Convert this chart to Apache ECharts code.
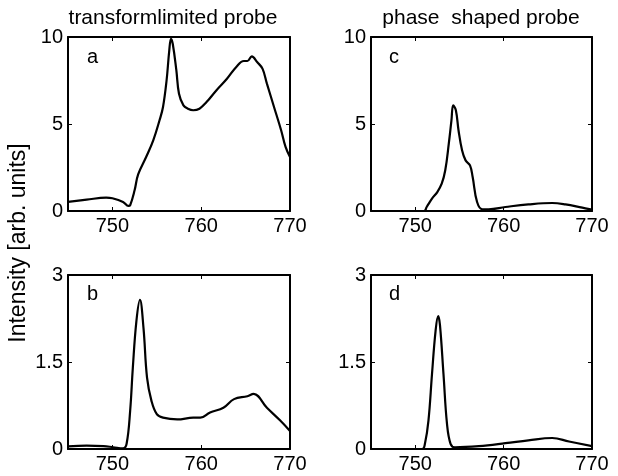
<!DOCTYPE html>
<html><head><meta charset="utf-8">
<script src="https://cdn.jsdelivr.net/npm/echarts@6/dist/echarts.min.js"></script>
<style>html,body{margin:0;padding:0;background:#fff}#c{width:618px;height:476px}</style>
</head><body><div id="c"></div>
<script>
// Panel titles / labels
const colTitles = ["transformlimited probe", "phase  shaped probe"];
const panelLetters = ["a", "c", "b", "d"];
const yAxisLabel = "Intensity [arb. units]";
const xTicks = [750, 760, 770];

// Panel a (transform limited, top)
const aX = [745, 747.1, 749.3, 750, 751.2, 751.8, 752.0, 752.5, 752.9, 753.8, 754.6, 755.3, 755.7, 756.1, 756.4, 756.6, 756.8, 757.2, 757.5, 758.0, 758.5, 759.1, 759.8, 760.6, 761.7, 762.9, 764.0, 764.8, 765.2, 765.7, 766.3, 766.9, 767.4, 768.2, 769.0, 769.5, 770];
const aY = [0.52, 0.65, 0.77, 0.73, 0.52, 0.29, 0.33, 1.19, 2.1, 3.1, 4.06, 5.2, 5.98, 7.5, 9.2, 9.9, 9.6, 8.1, 6.74, 6.07, 5.88, 5.79, 5.88, 6.26, 6.93, 7.6, 8.31, 8.62, 8.62, 8.89, 8.56, 8.18, 7.32, 5.98, 4.64, 3.68, 3.1];

// Panel c (phase shaped, top)
const cX = [745, 751.0, 751.3, 751.9, 752.5, 753.0, 753.4, 753.8, 754.1, 754.3, 754.6, 754.9, 755.3, 755.7, 756.2, 756.5, 757.0, 757.6, 758.3, 760.2, 762.8, 765.5, 767.0, 768.9, 770];
const cY = [0, 0, 0.23, 0.71, 1.09, 1.57, 2.34, 3.87, 5.21, 6.07, 5.79, 4.64, 3.49, 2.91, 2.62, 1.95, 0.52, 0.1, 0.1, 0.23, 0.38, 0.46, 0.38, 0.19, 0.08];

// Panel b (transform limited, bottom)
const bX = [745, 747.1, 749, 750.1, 751.2, 751.6, 752.0, 752.3, 752.7, 753.1, 753.5, 753.9, 754.4, 755.0, 755.7, 757.3, 759.1, 759.9, 761.0, 762.5, 763.7, 765.2, 765.9, 767.4, 768.9, 770];
const bY = [0.046, 0.057, 0.05, 0.03, 0.01, 0.09, 0.66, 1.4, 2.2, 2.57, 2.09, 1.23, 0.83, 0.6, 0.54, 0.51, 0.54, 0.54, 0.63, 0.71, 0.86, 0.91, 0.95, 0.71, 0.49, 0.31];

// Panel d (phase shaped, bottom)
const dX = [745, 750.8, 751.1, 751.5, 751.9, 752.3, 752.6, 752.8, 753.2, 753.6, 754.0, 754.5, 757.2, 760.2, 762.8, 765.5, 767.4, 770];
const dY = [0, 0, 0.09, 0.49, 1.29, 2.03, 2.29, 2.14, 1.29, 0.43, 0.09, 0.03, 0.05, 0.1, 0.15, 0.19, 0.13, 0.05];

const yTopTicks = {max: 10, interval: 5};
const yBotTicks = {max: 3, interval: 1.5};

const FONT = "Liberation Sans, Arial, Helvetica, sans-serif";
const FS = 20;
const grids = [
  {left: 68, top: 37, width: 222, height: 174},
  {left: 371, top: 37, width: 221, height: 174},
  {left: 68, top: 275, width: 222, height: 174},
  {left: 371, top: 275, width: 221, height: 174}
];
const panels = [[aX, aY, yTopTicks], [cX, cY, yTopTicks], [bX, bY, yBotTicks], [dX, dY, yBotTicks]];

const lineStyle = {color: '#000', width: 2};
const xAxis = [], yAxis = [], series = [];
panels.forEach((p, i) => {
  xAxis.push({type: 'value', gridIndex: i, min: 745, max: 770, position: 'bottom',
    axisLine: {onZero: false, lineStyle}, splitLine: {show: false},
    axisTick: {inside: true, length: 4, customValues: xTicks, lineStyle: {color: '#000', width: 1}},
    axisLabel: {customValues: xTicks, color: '#000', fontSize: FS, fontFamily: FONT, margin: 5}});
  xAxis.push({type: 'value', gridIndex: i, min: 745, max: 770, position: 'top',
    axisLine: {onZero: false, lineStyle}, splitLine: {show: false},
    axisTick: {inside: true, length: 4, customValues: xTicks, lineStyle: {color: '#000', width: 1}},
    axisLabel: {show: false}});
  yAxis.push({type: 'value', gridIndex: i, min: 0, max: p[2].max, interval: p[2].interval, position: 'left',
    axisLine: {show: true, onZero: false, lineStyle}, splitLine: {show: false},
    axisTick: {show: true, inside: true, length: 4, lineStyle: {color: '#000', width: 1}},
    axisLabel: {color: '#000', fontSize: FS, fontFamily: FONT, margin: 5}});
  yAxis.push({type: 'value', gridIndex: i, min: 0, max: p[2].max, interval: p[2].interval, position: 'right',
    axisLine: {show: true, onZero: false, lineStyle}, splitLine: {show: false},
    axisTick: {show: true, inside: true, length: 4, lineStyle: {color: '#000', width: 1}},
    axisLabel: {show: false}});
  series.push({type: 'line', xAxisIndex: 2 * i, yAxisIndex: 2 * i, showSymbol: false,
    smooth: 0.4, lineStyle: {color: '#000', width: 2.2}, silent: true,
    data: p[0].map((x, k) => [x, p[1][k]])});
});

const letterPos = [[87, 57], [389, 57], [87, 294], [389, 294]];
const graphic = [
  {type: 'text', x: 173, y: 18, style: {text: colTitles[0], fontSize: 21, fontFamily: FONT, fill: '#000', align: 'center', verticalAlign: 'middle'}},
  {type: 'text', x: 481, y: 18, style: {text: colTitles[1], fontSize: 21, fontFamily: FONT, fill: '#000', align: 'center', verticalAlign: 'middle'}},
  {type: 'text', x: 19, y: 243, rotation: Math.PI / 2, style: {text: yAxisLabel, fontSize: 23, fontFamily: FONT, fill: '#000', align: 'center', verticalAlign: 'middle'}}
];
panelLetters.forEach((l, i) => graphic.push({type: 'text', x: letterPos[i][0], y: letterPos[i][1],
  style: {text: l, fontSize: FS, fontFamily: FONT, fill: '#000', align: 'left', verticalAlign: 'middle'}}));

const chart = echarts.init(document.getElementById('c'), null, {renderer: 'canvas'});
chart.setOption({backgroundColor: '#fff', animation: false, grid: grids, xAxis, yAxis, series, graphic});
</script></body></html>
